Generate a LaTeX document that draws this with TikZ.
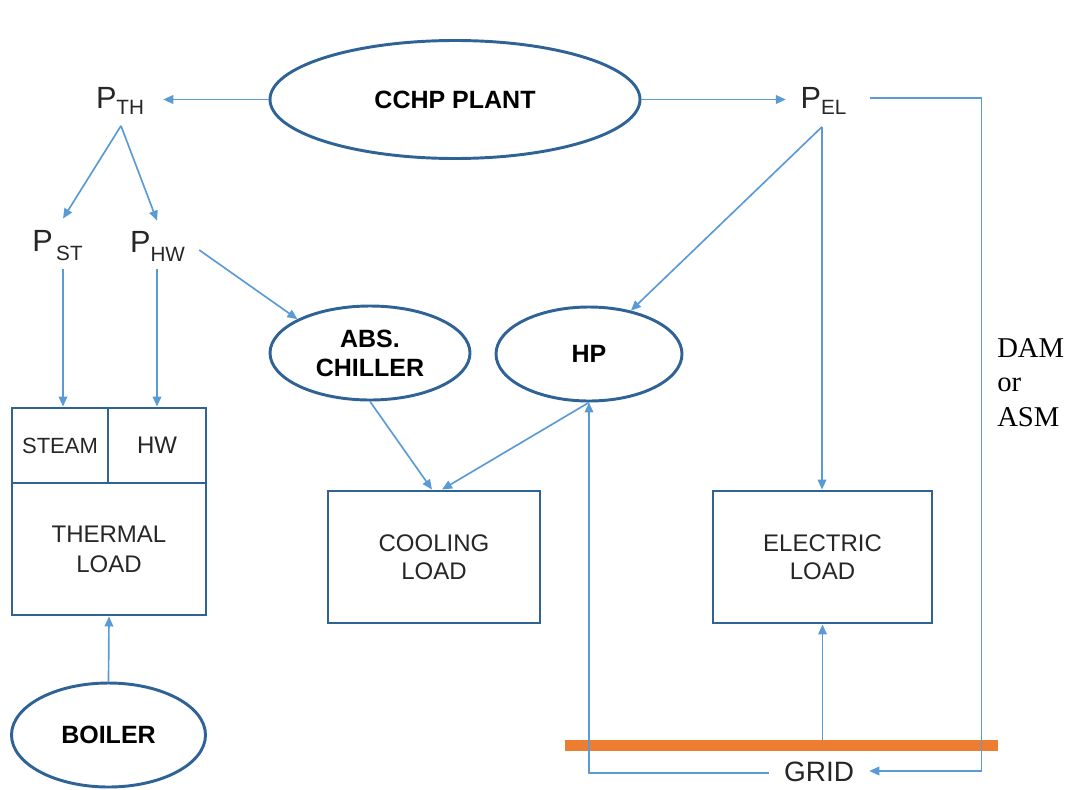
\documentclass[tikz,border=0pt]{standalone}
\usepackage{fontspec}
\setmainfont{Liberation Sans}
\newfontfamily\timesfam{Liberation Serif}
\usetikzlibrary{shapes.geometric,arrows.meta,calc}
\definecolor{linkblue}{HTML}{5B9BD5}
\definecolor{boxblue}{HTML}{2F6395}
\definecolor{gridorange}{HTML}{ED7D31}
\definecolor{ink}{HTML}{262626}
\newcommand{\fs}[2]{\fontsize{#1}{#2}\selectfont}
% power symbol with a lowered subscript: #1 subscript, #2 drop
\newcommand{\Pwith}[2]{{\fs{23}{27}P}\raisebox{-#2}{\fs{15.5}{18}#1}}

\begin{document}
\begin{tikzpicture}[x=0.75pt,y=-0.75pt,
  unit/.style={ellipse,draw=boxblue,line width=2.2pt,inner sep=0pt,
    font=\bfseries\fs{18.75}{21.75},align=center,text=black},
  block/.style={rectangle,draw=boxblue,line width=2.2pt,inner sep=0pt,
    align=center,text=ink},
  flowlabel/.style={inner sep=0pt,text=ink},
  link/.style={draw=linkblue,line width=1.25pt},
  arr/.style={link,-{Triangle[length=7.5pt,width=6.5pt]}},
]
\useasboundingbox (0,0) rectangle (1073,789);

% grid bus bar
\node[fill=gridorange,minimum width=324.75pt,minimum height=8.25pt,inner sep=0pt] (gridbar) at (781.5,745.5) {};

% plants and converters
\node[unit,minimum width=277.5pt,minimum height=88.5pt] (cchp) at (455,99.5) {CCHP PLANT};
\node[unit,minimum width=150pt,minimum height=70.5pt] (chiller) at (370,353) {ABS.\\CHILLER};
\node[unit,minimum width=139.5pt,minimum height=70.5pt] (hp) at (589,354) {HP};
\node[unit,minimum width=145.5pt,minimum height=78pt] (boiler) at (108.5,735) {BOILER};

% loads
\node[block,minimum width=72pt,minimum height=56.25pt,font=\fs{16.5}{20}] (steam) at (60,445.5) {STEAM};
\node[block,minimum width=73.5pt,minimum height=56.25pt,font=\fs{18}{22}] (hwbox) at (157,445.5) {HW};
\node[block,minimum width=145.5pt,minimum height=99pt,font=\fs{18}{22.5}] (thermal) at (109,549) {THERMAL\\LOAD};
\node[block,minimum width=159pt,minimum height=99pt,font=\fs{18}{21}] (cooling) at (434,557) {COOLING\\LOAD};
\node[block,minimum width=164.25pt,minimum height=99pt,font=\fs{18}{21}] (elec) at (822.5,557) {ELECTRIC\\LOAD};

% power flows
\node[flowlabel] (pth) at (120,101) {\Pwith{TH}{4.5pt}};
\node[flowlabel] (pel) at (823.5,101) {\Pwith{EL}{4.5pt}};
\node[flowlabel] (pst) at (57.5,246) {\Pwith{\,ST}{6.75pt}};
\node[flowlabel] (phw) at (157.5,246) {\Pwith{HW}{6.75pt}};
\node[flowlabel,font=\fs{21}{25}] (grid) at (819,772) {GRID};
\node[flowlabel,font=\timesfam\fs{21.5}{26},align=left,anchor=north west,text=black] (market) at (997,338) {DAM\\or\\ASM};

% connectors
\draw[arr,shorten >=14.25pt] (cchp.west) -- (cchp.west -| pth.east);
\draw[arr,shorten >=10.9pt] (cchp.east) -- (cchp.east -| pel.west);
\draw[arr] ($(pel.east)+(23,-3)$) -- ++(112,0) |- ($(grid.east)+(15,-1)$);

\draw[arr] ($(pth.south)+(1,11)$) -- ($(pst.north)+(5.5,-12)$);
\draw[arr] ($(pth.south)+(1,11)$) -- ($(phw.north)+(-0.5,-10)$);
\draw[arr] ($(phw.east)+(14,4)$) -- (chiller.155);
\draw[arr] ($(pst.south)+(5.5,8)$) coordinate (stdrop) -- (stdrop |- steam.north);
\draw[arr] ($(phw.south)+(-0.5,8)$) coordinate (hwdrop) -- (hwdrop |- hwbox.north);
\draw[arr] (boiler.north) -- (thermal.south);

\draw[arr] (chiller.south) -- ($(cooling.north)+(-2,0)$);
\draw[arr] (hp.south) -- ($(cooling.north)+(8,0)$);
\draw[arr] ($(grid.west)+(-15,1)$) -| (hp.south);

\draw[arr] ($(pel.south)+(-1.5,12)$) coordinate (eldrop) -- (eldrop |- elec.north);
\draw[arr] (eldrop) -- (hp.46);
\draw[arr] (gridbar.north -| elec.south) -- (elec.south);
\end{tikzpicture}
\end{document}
